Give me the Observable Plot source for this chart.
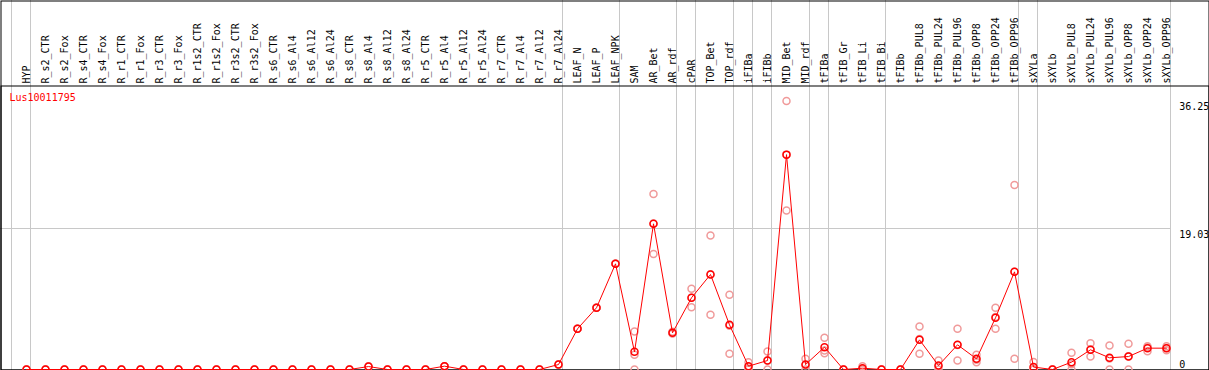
<!DOCTYPE html>
<html>
<head>
<meta charset="utf-8">
<script src="https://cdn.jsdelivr.net/npm/d3@7"></script>
<script src="https://cdn.jsdelivr.net/npm/@observablehq/plot@0.6"></script>
<style>
  html, body { margin: 0; padding: 0; background: #fff; }
  #chart svg { display: block; }
</style>
</head>
<body>
<div id="chart"></div>
<script>
const gene = "Lus10011795";

const columns = [
  "HYP",
  "R_s2_CTR","R_s2_Fox","R_s4_CTR","R_s4_Fox","R_r1_CTR","R_r1_Fox","R_r3_CTR","R_r3_Fox",
  "R_r1s2_CTR","R_r1s2_Fox","R_r3s2_CTR","R_r3s2_Fox",
  "R_s6_CTR","R_s6_Al4","R_s6_Al12","R_s6_Al24","R_s8_CTR","R_s8_Al4","R_s8_Al12","R_s8_Al24",
  "R_r5_CTR","R_r5_Al4","R_r5_Al12","R_r5_Al24","R_r7_CTR","R_r7_Al4","R_r7_Al12","R_r7_Al24",
  "LEAF_N","LEAF_P","LEAF_NPK",
  "SAM","AR_Bet","AR_rdf","cPAR","TOP_Bet","TOP_rdf","iFIBa","iFIBb","MID_Bet","MID_rdf",
  "tFIBa","tFIB_Gr","tFIB_Li","tFIB_Bi","tFIBb",
  "tFIBb_PUL8","tFIBb_PUL24","tFIBb_PUL96","tFIBb_OPP8","tFIBb_OPP24","tFIBb_OPP96",
  "sXYLa","sXYLb",
  "sXYLb_PUL8","sXYLb_PUL24","sXYLb_PUL96","sXYLb_OPP8","sXYLb_OPP24","sXYLb_OPP96"
];

// mean expression per condition
const means = [
  0,
  0,0,0,0,0,0,0,0,
  0,0,0,0,
  0,0,0,0,0,0.4,0,0,
  0,0.45,0,0,0,0,0,0.67,
  5.49,8.33,14.26,
  2.38,19.66,4.95,9.68,12.82,6.03,0.45,1.21,29.0,0.67,
  3.01,0,0.18,0,0,
  4.0,0.54,3.33,1.44,6.98,13.18,
  0.33,0,
  0.99,2.66,1.58,1.75,2.88,2.88
];

// replicate values per condition
const rep1 = [
  0,
  0,0,0,0,0,0,0,0,
  0,0,0,0,
  0,0,0,0,0,0.4,0,0,
  0,0.45,0,0,0,0,0,0.67,
  5.49,8.33,14.26,
  5.13,23.7,5.1,10.9,18.1,10.08,0.99,2.43,36.25,1.44,
  4.28,0,0.45,0,0,
  5.8,1.21,5.49,2.0,8.33,24.9,
  1.0,0,
  2.25,3.55,3.24,3.46,3.14,3.14
];
const rep2 = [
  0,
  0,0,0,0,0,0,0,0,
  0,0,0,0,
  0,0,0,0,0,0.4,0,0,
  0,0.45,0,0,0,0,0,0.67,
  5.49,8.33,14.26,
  2.0,19.7,4.9,9.7,12.85,5.9,0.35,1.2,29.0,0.57,
  2.55,0,0.1,0,0,
  4.1,0.4,3.3,1.33,7.1,13.2,
  0,0,
  0.72,2.7,1.5,1.8,3.0,2.9
];
const rep3 = [
  0,
  0,0,0,0,0,0,0,0,
  0,0,0,0,
  0,0,0,0,0,0.4,0,0,
  0,0.45,0,0,0,0,0,0.67,
  5.49,8.33,14.26,
  0,15.6,4.85,8.4,7.38,2.12,0,0,21.46,0,
  2.2,0,0,0,0,
  2.12,0,1.21,0.99,5.49,1.44,
  0,0,
  0,1.75,0,0,2.47,2.6
];

// index of the last condition of each group (group separators)
const groupEnds = [-1, 0, 28, 31, 34, 35, 37, 38, 39, 41, 42, 45, 52, 53, 60];

// right-hand value labels
const yTicks = [36.25, 19.03];
const yZero = [0];
const gridValues = [19.03];

const meanData = means.map((v, i) => ({i, v}));
const repData = [rep1, rep2, rep3].flatMap(r => r.map((v, i) => ({i, v})));

const font = "'DejaVu Sans Mono', monospace";

const chart = Plot.plot({
  width: 1209,
  height: 370,
  marginTop: 85,
  marginBottom: 0,
  marginLeft: 0,
  marginRight: 0,
  style: {fontFamily: font, fontSize: "10px", background: "#fff", color: "#000"},
  x: {type: "linear", domain: [0, 60], range: [26, 1166], axis: null},
  y: {type: "linear", domain: [0, 19.03], range: [369, 228], axis: null},
  marks: [
    // vertical group separators, through the header too
    Plot.ruleX(groupEnds, {x: d => d, dx: 4, stroke: "#c8c8c8", strokeWidth: 1, insetTop: -85}),
    // horizontal gridline
    Plot.ruleY(gridValues, {y: d => d, stroke: "#c8c8c8", strokeWidth: 1, insetRight: 38}),
    // frames
    Plot.frame({stroke: "#000", strokeWidth: 1, insetTop: -84.5, insetLeft: 0.5, insetRight: 0.5, insetBottom: 0.5}),
    Plot.frame({stroke: "#000", strokeWidth: 1, insetTop: 0.5, insetLeft: 0.5, insetRight: 0.5, insetBottom: 0.5}),
    // header labels
    Plot.text(columns, {
      x: (d, i) => i, text: d => d, frameAnchor: "top", dy: -2,
      rotate: -90, textAnchor: "start", lineAnchor: "middle", fill: "#000"
    }),
    // gene name
    Plot.text([gene], {frameAnchor: "top-left", dx: 9, dy: 8, textAnchor: "start", lineAnchor: "top", fill: "red", text: d => d}),
    // value labels
    Plot.text(yTicks, {y: d => d, text: d => String(d), frameAnchor: "right", dx: -30.3, dy: 2, textAnchor: "start", lineAnchor: "top", fill: "#000"}),
    Plot.text(yZero, {y: d => d, text: d => String(d), frameAnchor: "right", dx: -30.3, dy: -2, textAnchor: "start", lineAnchor: "bottom", fill: "#000"}),
    // replicates
    Plot.dot(repData, {x: "i", y: "v", r: 3.5, stroke: "#f09a9a", strokeWidth: 1.5, fill: "none"}),
    // mean line
    Plot.line(meanData, {x: "i", y: "v", stroke: "red", strokeWidth: 1}),
    Plot.dot(meanData, {x: "i", y: "v", r: 3.5, stroke: "red", strokeWidth: 1.5, fill: "none"})
  ]
});

document.getElementById("chart").appendChild(chart);
</script>
</body>
</html>
